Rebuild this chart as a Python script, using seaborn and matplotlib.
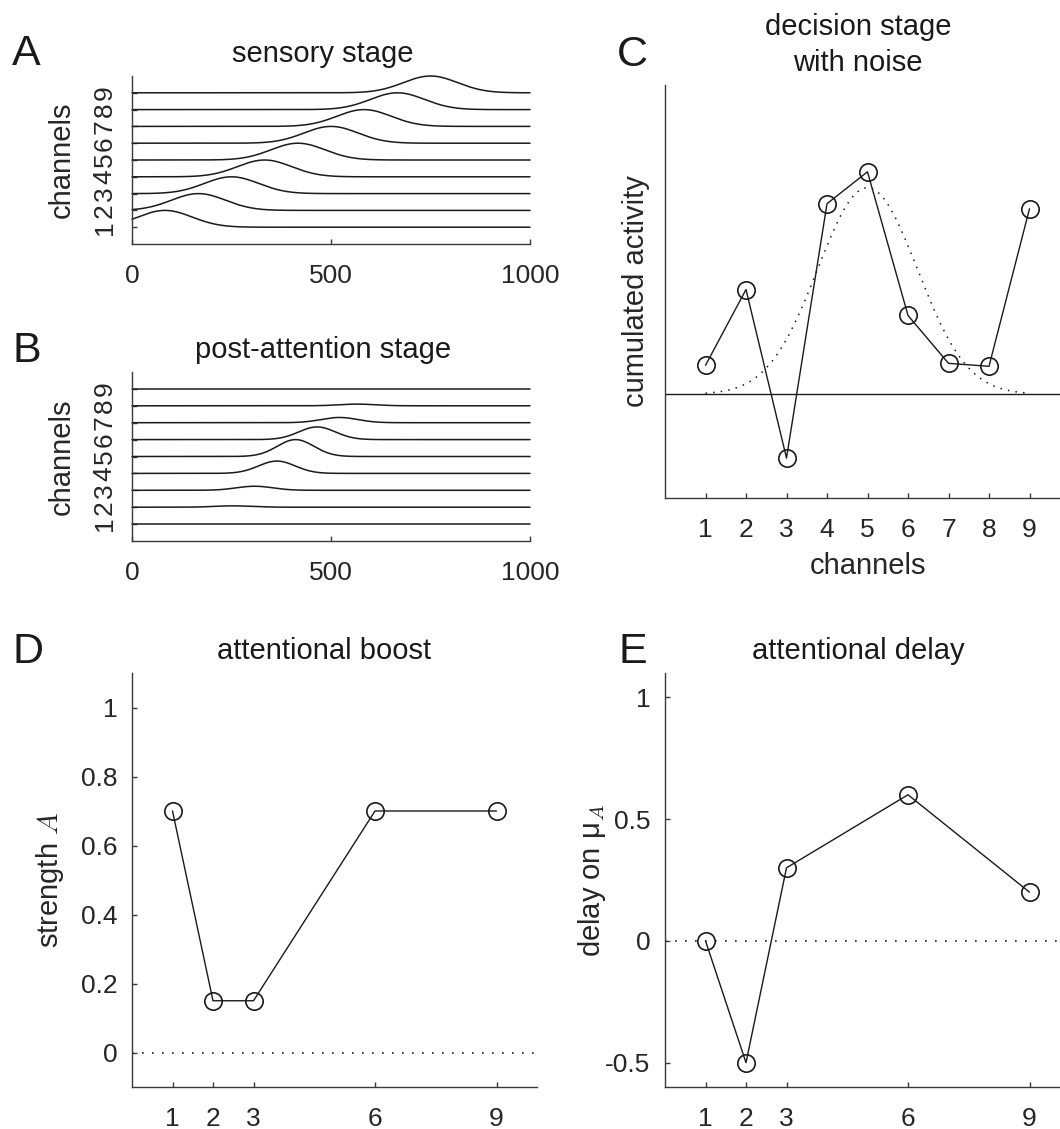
import numpy as np
import pandas as pd
import matplotlib
matplotlib.use('Agg')
import matplotlib.pyplot as plt
from matplotlib.ticker import FuncFormatter
import seaborn as sns

# ---- values ----
channels = [1, 2, 3, 4, 5, 6, 7, 8, 9]

# A: sensory stage - one bump per channel (centre, height, width in ms)
sens_centre = [83, 167, 250, 333, 417, 500, 583, 667, 750]
sens_height = [1.0, 1.0, 1.0, 1.0, 1.0, 1.0, 1.0, 1.0, 1.0]
sens_width = [68, 68, 68, 68, 68, 68, 68, 68, 68]

# B: post-attention stage
post_centre = [250, 253, 308, 364, 411, 465, 521, 566, 600]
post_height = [0.0, 0.08, 0.24, 0.73, 1.0, 0.75, 0.31, 0.10, 0.0]
post_width = [46, 46, 46, 46, 46, 46, 46, 46, 46]

# C: decision stage with noise
decision = [0.29, 1.05, -0.64, 1.91, 2.23, 0.79, 0.31, 0.28, 1.86]
expected_centre = 5
expected_height = 2.07
expected_width = 1.23

# D / E
param_channels = [1, 2, 3, 6, 9]
boost = [0.7, 0.15, 0.15, 0.7, 0.7]
delay = [0.0, -0.5, 0.3, 0.6, 0.2]

W, H = 1060, 1129
AX_COL = '#3a3a3a'
TXT_COL = '#262626'
TICK_FS = 19
LABEL_FS = 21
TITLE_FS = 21
LETTER_FS = 31

sns.set_theme(style='ticks')
plt.rcParams['font.family'] = ['Liberation Sans', 'DejaVu Sans']
plt.rcParams['axes.unicode_minus'] = False


def caixa(left, top, right, bottom):
    # pixel box -> figure fraction
    return [left / W, 1 - bottom / H, (right - left) / W, (bottom - top) / H]


def estilo(ax, ypad=10.5, xpad=14.5):
    sns.despine(ax=ax)
    for s in ['left', 'bottom']:
        ax.spines[s].set_color(AX_COL)
        ax.spines[s].set_linewidth(1.0)
    ax.tick_params(direction='in', length=3.5, width=1.0, colors=AX_COL,
                   labelcolor=TXT_COL, labelsize=TICK_FS)
    ax.tick_params(axis='y', pad=ypad)
    ax.tick_params(axis='x', pad=xpad)
    ax.set_facecolor('white')


def curvas(centros, alturas, larguras):
    t = np.linspace(0, 1000, 1001)
    linhas = []
    for ch, c, a, w in zip(channels, centros, alturas, larguras):
        linhas.append(pd.DataFrame({'t': t, 'ch': ch,
                                    'y': ch + a * np.exp(-(t - c) ** 2 / (2 * w ** 2))}))
    return pd.concat(linhas, ignore_index=True)


fig = plt.figure(figsize=(W / 100, H / 100), dpi=100)
fmt = FuncFormatter(lambda v, p: '%g' % v)

# ---- A and B: channel traces ----
for box, centros, alturas, larguras, titulo in [
        ((132, 76, 530, 244), sens_centre, sens_height, sens_width, 'sensory stage'),
        ((132, 372, 530, 541), post_centre, post_height, post_width, 'post-attention stage')]:
    ax = fig.add_axes(caixa(*box))
    df = curvas(centros, alturas, larguras)
    sns.lineplot(data=df, x='t', y='y', units='ch', estimator=None,
                 color='#1a1a1a', lw=1.1, ax=ax, clip_on=False)
    ax.set_xlim(0, 1000)
    ax.set_ylim(0, 10)
    ax.set_xticks([0, 500, 1000])
    ax.set_yticks(channels)
    ax.set_yticklabels([str(c) for c in channels], rotation=90, va='center')
    estilo(ax, ypad=11)
    ax.set_xlabel('')
    ax.set_ylabel('channels', fontsize=LABEL_FS, color=TXT_COL)
    ax.yaxis.set_label_coords(-0.141, 0.5)
    ax.set_title(titulo, fontsize=TITLE_FS, x=0.48, pad=10, color='k')

# ---- C: decision stage ----
axc = fig.add_axes(caixa(665, 85, 1070, 498))
xs = np.linspace(1, 9, 200)
sns.lineplot(x=xs, y=expected_height * np.exp(-(xs - expected_centre) ** 2 / (2 * expected_width ** 2)),
             color='k', lw=1.1, linestyle=(0, (1, 4)), ax=axc)
axc.axhline(0, color='#1a1a1a', lw=1.0)
sns.lineplot(x=channels, y=decision, color='k', lw=1.0, marker='o', markersize=12.5,
             markerfacecolor='none', markeredgecolor='k', markeredgewidth=1.2, ax=axc)
axc.set_xlim(0, 10)
axc.set_ylim(-1.04, 3.10)
axc.set_xticks(channels)
axc.set_yticks([])
estilo(axc)
axc.set_xlabel('channels', fontsize=LABEL_FS, color=TXT_COL, labelpad=7)
axc.set_ylabel('cumulated activity', fontsize=LABEL_FS, color=TXT_COL)
axc.yaxis.set_label_coords(-0.037, 0.5)
axc.set_title('decision stage\nwith noise', fontsize=TITLE_FS, x=0.477, pad=10,
              linespacing=1.38, color='k')

# ---- D: attentional boost ----
axd = fig.add_axes(caixa(132, 673, 537, 1087))
axd.axhline(0, color='#1a1a1a', lw=1.2, linestyle=(0, (1, 5)))
sns.lineplot(x=param_channels, y=boost, color='k', lw=1.0, marker='o', markersize=12.5,
             markerfacecolor='none', markeredgecolor='k', markeredgewidth=1.2, ax=axd)
axd.set_xlim(0, 10)
axd.set_ylim(-0.1, 1.1)
axd.set_xticks(param_channels)
axd.set_yticks([0, 0.2, 0.4, 0.6, 0.8, 1])
axd.yaxis.set_major_formatter(fmt)
estilo(axd)
axd.set_ylabel(r'strength $\mathit{A}$', fontsize=LABEL_FS, color=TXT_COL, math_fontfamily='cm')
axd.yaxis.set_label_coords(-0.163, 0.5)
axd.set_title('attentional boost', fontsize=TITLE_FS, x=0.475, pad=10, color='k')

# ---- E: attentional delay ----
axe = fig.add_axes(caixa(665, 673, 1070, 1087))
axe.axhline(0, color='#1a1a1a', lw=1.2, linestyle=(0, (1, 5)))
sns.lineplot(x=param_channels, y=delay, color='k', lw=1.0, marker='o', markersize=12.5,
             markerfacecolor='none', markeredgecolor='k', markeredgewidth=1.2, ax=axe)
axe.set_xlim(0, 10)
axe.set_ylim(-0.6, 1.1)
axe.set_xticks(param_channels)
axe.set_yticks([-0.5, 0, 0.5, 1])
axe.yaxis.set_major_formatter(fmt)
estilo(axe)
axe.set_ylabel(r'delay on μ$_{\mathit{A}}$', fontsize=LABEL_FS, color=TXT_COL, math_fontfamily='cm')
axe.yaxis.set_label_coords(-0.141, 0.5)
axe.set_title('attentional delay', fontsize=TITLE_FS, x=0.477, pad=10, color='k')

# ---- panel letters ----
for letra, x, yb in [('A', 12, 65), ('B', 12, 362), ('C', 617, 66),
                     ('D', 12, 663), ('E', 619, 663)]:
    fig.text(x / W, 1 - yb / H, letra, fontsize=LETTER_FS, ha='left', va='baseline', color='k')

fig.savefig('out.png', dpi=100, facecolor='white')
